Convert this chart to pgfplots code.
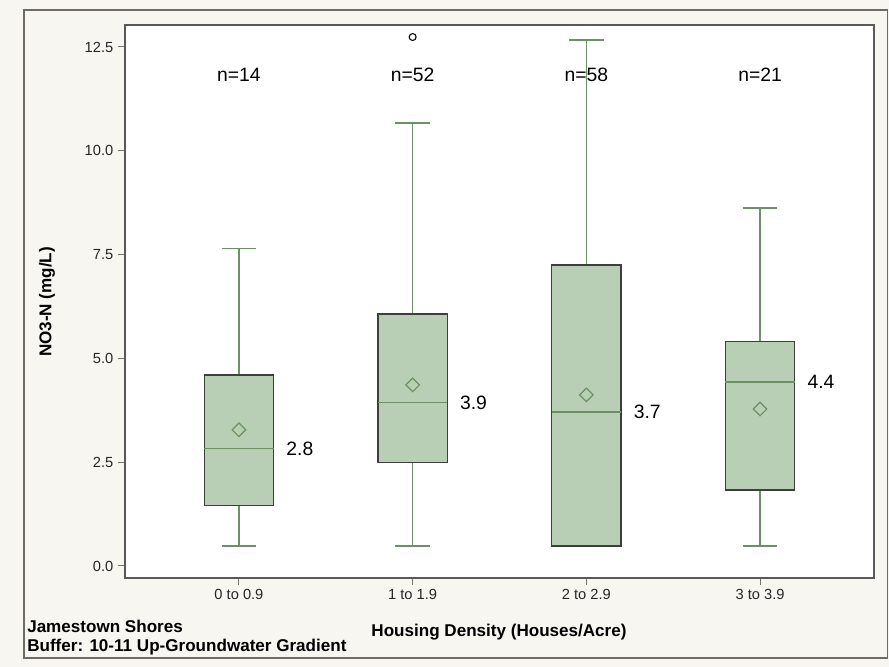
\documentclass[border=0pt]{standalone}
\usepackage{pgfplots}
\pgfplotsset{compat=1.18}
\usepgfplotslibrary{statistics}
\usepackage{fontspec}
\setmainfont{Liberation Sans}
\definecolor{bgc}{HTML}{F8F6F1}
\definecolor{boxfill}{HTML}{B9CFB5}
\definecolor{boxedge}{HTML}{3E3E3E}
\definecolor{wgreen}{HTML}{6A9262}
\definecolor{framec}{HTML}{6E6A64}
\begin{document}
\begin{tikzpicture}[x=0.75pt,y=0.75pt]
\fill[bgc] (0,0) rectangle (889,667);
\draw[framec, line width=1.2pt] (24,9) rectangle (887.5,657);
\begin{axis}[
  at={(93.75pt,66.75pt)}, anchor=south west,
  scale only axis, width=561.75pt, height=414.75pt,
  xmin=-0.656, xmax=3.656, ymin=-0.29, ymax=13.03,
  axis background/.style={fill=white},
  axis line style={draw=black!65, line width=0.9pt},
  xtick={0,1,2,3},
  xticklabels={0 to 0.9, 1 to 1.9, 2 to 2.9, 3 to 3.9},
  ytick={0,2.5,5,7.5,10,12.5},
  yticklabel style={/pgf/number format/.cd, fixed, fixed zerofill, precision=1},
  /pgf/number format/assume math mode=true,
  tick label style={font=\fontsize{11}{13}\selectfont, text=black!85},
  tick pos=left, tick align=outside,
  major tick length=5.25pt,
  tick style={draw=black!55, line width=0.75pt},
  boxplot/draw direction=y,
  boxplot/every box/.style={draw=boxedge, fill=boxfill, line width=0.9pt},
  boxplot/every whisker/.style={draw=wgreen, line width=0.9pt},
  boxplot/every median/.style={draw=wgreen, line width=0.9pt},
  clip=false,
]
\addplot[mark=none, draw=wgreen, boxplot prepared={draw position=0, lower whisker=0.48, lower quartile=1.45, median=2.82, upper quartile=4.60, upper whisker=7.65, box extend=0.4, whisker extend=0.2}] coordinates {};
\addplot[mark=none, draw=wgreen, boxplot prepared={draw position=1, lower whisker=0.48, lower quartile=2.50, median=3.93, upper quartile=6.07, upper whisker=10.67, box extend=0.4, whisker extend=0.2}] coordinates {};
\addplot[mark=none, draw=wgreen, boxplot prepared={draw position=2, lower whisker=0.48, lower quartile=0.48, median=3.71, upper quartile=7.25, upper whisker=12.67, box extend=0.4, whisker extend=0.2}] coordinates {};
\addplot[mark=none, draw=wgreen, boxplot prepared={draw position=3, lower whisker=0.48, lower quartile=1.83, median=4.43, upper quartile=5.40, upper whisker=8.62, box extend=0.4, whisker extend=0.2}] coordinates {};
\addplot[only marks, mark=square, mark size=3.6pt, mark options={rotate=45, draw=wgreen, line width=0.9pt, fill=none}] coordinates {(0,3.28) (1,4.36) (2,4.12) (3,3.78)};
\addplot[only marks, mark=o, mark size=2.6pt, mark options={draw=black, line width=0.8pt}] coordinates {(1,12.74)};
\foreach \i/\n in {0/14,1/52,2/58,3/21} {
  \edef\tmp{\noexpand\node[font=\noexpand\fontsize{14.5}{16}\noexpand\selectfont] at (axis cs:\i,11.83) {n=\n};}
  \tmp
}
\node[anchor=west, font=\fontsize{14.5}{16}\selectfont] at (axis cs:0.2,2.82) [xshift=6pt] {2.8};
\node[anchor=west, font=\fontsize{14.5}{16}\selectfont] at (axis cs:1.2,3.93) [xshift=6pt] {3.9};
\node[anchor=west, font=\fontsize{14.5}{16}\selectfont] at (axis cs:2.2,3.71) [xshift=6pt] {3.7};
\node[anchor=west, font=\fontsize{14.5}{16}\selectfont] at (axis cs:3.2,4.43) [xshift=6pt] {4.4};
\end{axis}
\node[rotate=90, font=\fontsize{12.8}{15}\bfseries] at (47,365) {NO3-N (mg/L)};
\node[font=\fontsize{12.8}{15}\bfseries] at (499,35) {Housing Density (Houses/Acre)};
\node[anchor=west, inner sep=0pt, font=\fontsize{12.8}{15}\bfseries] at (27,41) {Jamestown Shores};
\node[anchor=west, inner sep=0pt, font=\fontsize{12.8}{15}\bfseries] at (27,20) {Buffer: 10-11 Up-Groundwater Gradient};
\end{tikzpicture}
\end{document}
